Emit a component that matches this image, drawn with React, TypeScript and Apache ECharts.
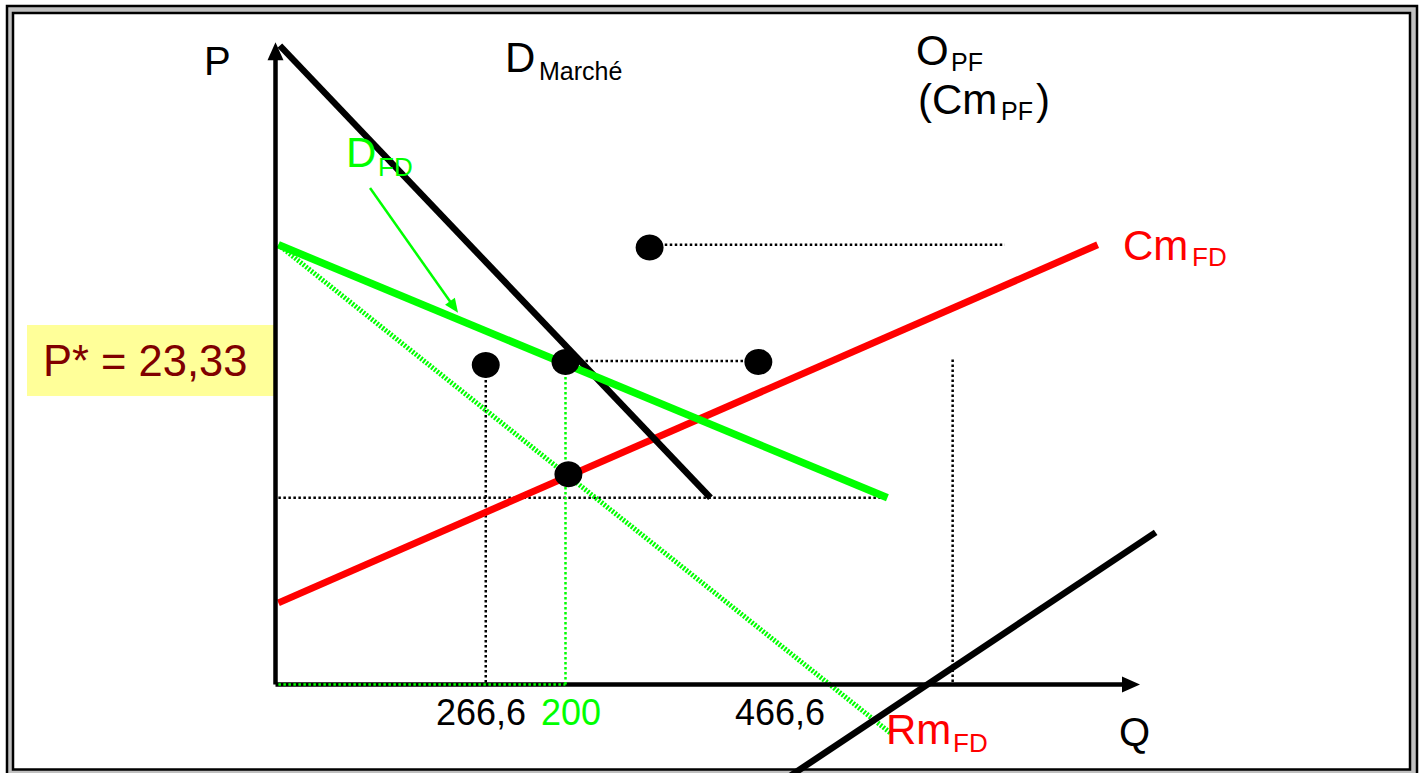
import React, { useEffect, useRef } from "react";
import * as echarts from "echarts";

// ---- data (Q, P) ----
const demandeMarche = [[3, 46.2], [300, 13.5]];
const demandeFD = [[2, 31.8], [422, 13.5]];
const recetteMarginaleFD = [[2, 31.8], [424, -3.5]];
const coutMarginalFD = [[2, 5.9], [567, 31.8]];
const offrePF = [[348, -7.1], [607, 11]];
const pointsCles = [[145, 23.1], [200, 23.33], [333, 23.33], [258, 31.6], [202, 15.2]];
const guidesNoirs = [
  [[265, 31.8], [503, 31.8]],
  [[200, 23.4], [333, 23.4]],
  [[2, 13.5], [422, 13.5]],
  [[145, 23.1], [145, 0]],
  [[467, 23.5], [467, 0]],
];
const guidesVerts = [
  [[200, 23.33], [200, 0]],
  [[2, 0], [200, 0]],
];
const axeQ = [0, 590];
const axeP = [0, 45.8];
const flecheDFD = [[65.2, 35.9], [123.1, 27.3]];
const tickLabels = ["266,6", "200", "466,6"];
const prixEquilibre = "P* = 23,33";

const FONT = '"Liberation Sans", Arial, sans-serif';
const GREEN = "#00FF00";
const RED = "#FF0000";

function txt(text: string, x: number, y: number, size: number, fill: string) {
  return {
    type: "text",
    x,
    y,
    z: 5,
    style: { text, fill, fontSize: size, fontFamily: FONT, align: "left", verticalAlign: "middle" },
  };
}

function lineSeries(data: number[][], color: string, width: number, type: any = "solid", z = 2) {
  return {
    type: "line",
    data,
    showSymbol: false,
    symbol: "none",
    silent: true,
    clip: false,
    z,
    lineStyle: { color, width, type, opacity: 1 },
  };
}

export default function App() {
  const ref = useRef<HTMLDivElement>(null);
  useEffect(() => {
    if (!ref.current) return;
    const chart = echarts.init(ref.current, undefined, { renderer: "svg" });
    const series: any[] = [];
    // axes
    series.push({
      type: "line",
      data: [[0, 0]],
      symbol: "none",
      silent: true,
      z: 3,
      lineStyle: { width: 0 },
      markLine: {
        silent: true,
        animation: false,
        symbol: ["none", "triangle"],
        symbolSize: [16, 18],
        label: { show: false },
        emphasis: { disabled: true },
        lineStyle: { color: "#000", width: 4.5, type: "solid" },
        data: [
          [{ coord: [axeQ[0], 0] }, { coord: [0, axeP[1]] }],
          [{ coord: [axeQ[0], 0] }, { coord: [axeQ[1], 0] }],
        ],
      },
    });
    guidesNoirs.forEach((g) => series.push(lineSeries(g, "#000", 2.5, [2.5, 2.5], 2)));
    series.push(lineSeries(recetteMarginaleFD, GREEN, 5, [2, 1.5], 2));
    series.push(lineSeries(coutMarginalFD, RED, 7, "solid", 3));
    series.push(lineSeries(demandeMarche, "#000", 6.5, "solid", 3));
    series.push(lineSeries(offrePF, "#000", 6.5, "solid", 3));
    series.push(lineSeries(demandeFD, GREEN, 7.5, "solid", 4));
    guidesVerts.forEach((g) => series.push(lineSeries(g, GREEN, 2.5, [2.5, 2.5], 6)));
    // arrow D_FD
    series.push({
      type: "line",
      data: [flecheDFD[0]],
      symbol: "none",
      silent: true,
      z: 5,
      lineStyle: { width: 0 },
      markLine: {
        silent: true,
        animation: false,
        symbol: ["none", "triangle"],
        symbolSize: [12, 14],
        label: { show: false },
        emphasis: { disabled: true },
        lineStyle: { color: GREEN, width: 2.5, type: "solid" },
        data: [[{ coord: flecheDFD[0] }, { coord: flecheDFD[1] }]],
      },
    });
    series.push({
      type: "scatter",
      data: pointsCles,
      symbol: "circle",
      symbolSize: [28, 26],
      silent: true,
      z: 7,
      itemStyle: { color: "#000", opacity: 1 },
    });

    chart.setOption({
      animation: false,
      grid: { left: 0, right: 0, top: 0, bottom: 0 },
      xAxis: { type: "value", min: -190, max: 790, show: false },
      yAxis: { type: "value", min: -6.4, max: 49.5, show: false },
      graphic: [
        { type: "rect", z: 0, shape: { x: 7, y: 6, width: 1410, height: 800 }, style: { fill: "#C0C0C0", stroke: "#000", lineWidth: 2.5 } },
        { type: "rect", z: 0, shape: { x: 13, y: 13, width: 1397, height: 756.5 }, style: { fill: "#fff", stroke: "#000", lineWidth: 2.5 } },
        { type: "rect", z: 1, shape: { x: 27, y: 325, width: 248, height: 71 }, style: { fill: "#FFFF99" } },
        txt(prixEquilibre, 43, 361, 43.5, "#800000"),
        txt("P", 204, 61, 40, "#000"),
        txt("Q", 1119, 732, 40, "#000"),
        txt("D", 505, 57.5, 42, "#000"),
        txt("Marché", 539, 71, 25, "#000"),
        txt("O", 916, 50, 42, "#000"),
        txt("PF", 951, 61.5, 25, "#000"),
        txt("(Cm", 918, 99, 42, "#000"),
        txt("PF", 1001, 111, 25, "#000"),
        txt(")", 1036, 99, 42, "#000"),
        txt("D", 346, 152, 42, GREEN),
        txt("FD", 378, 166.5, 26, GREEN),
        txt("Cm", 1123, 245, 42, RED),
        txt("FD", 1192, 257, 26, RED),
        txt("Rm", 886, 729, 42, RED),
        txt("FD", 953, 742.5, 26, RED),
        txt(tickLabels[0], 436, 712.5, 36, "#000"),
        txt(tickLabels[1], 541, 712.5, 36, GREEN),
        txt(tickLabels[2], 735, 712.5, 36, "#000"),
      ],
      series,
    });
    return () => chart.dispose();
  }, []);
  return (
    <div
      ref={ref}
      style={{ position: "fixed", left: 0, top: 0, width: 1421, height: 773, background: "#fff" }}
    />
  );
}
